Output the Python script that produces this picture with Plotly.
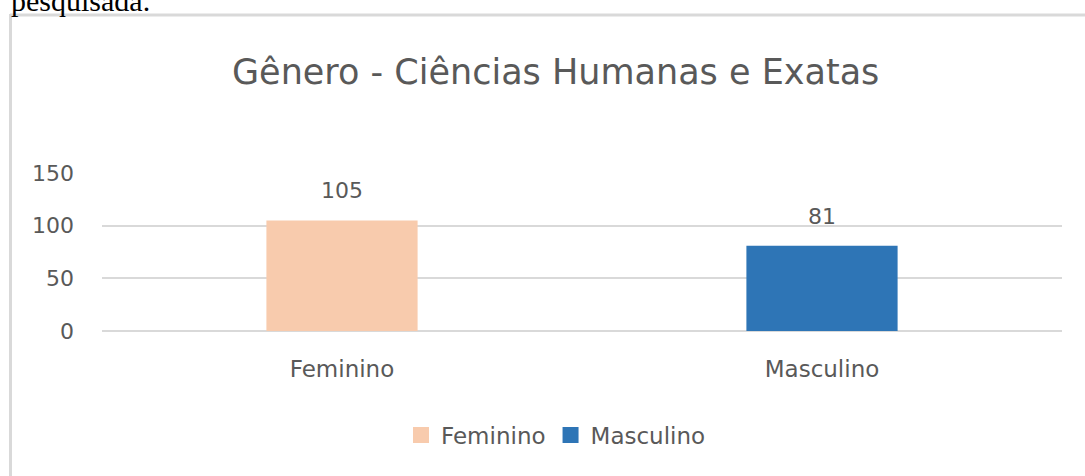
import plotly.graph_objects as go

categories = ["Feminino", "Masculino"]
values = [105, 81]
colors = ["#F8CBAD", "#2E75B6"]
y_ticks = [0, 50, 100, 150]
title_text = "Gênero - Ciências Humanas e Exatas"
page_text = "pesquisada."

W, H = 1085, 476
L, R, T, B = 102, 23, 173, 145
PW = W - L - R
PH = H - T - B

def px_x(px):
    return (px - L) / PW

def px_y(py):
    return (H - B - py) / PH

TXT = "#595959"
FONT = "DejaVu Sans"

fig = go.Figure()
for cat, val, col in zip(categories, values, colors):
    fig.add_trace(go.Bar(
        x=[cat], y=[val], name=cat, width=0.315,
        marker=dict(color=col, line=dict(width=0)),
        showlegend=False, hoverinfo="skip",
    ))
    fig.add_trace(go.Scatter(
        x=[None], y=[None], mode="markers", name=cat,
        marker=dict(symbol="square", size=16, color=col),
        showlegend=True,
    ))

label_annotations = [
    dict(text=str(val), x=cat, y=val, xref="x", yref="y",
         xanchor="center", yanchor="bottom", yshift=15, showarrow=False,
         font=dict(size=22, color=TXT, family=FONT))
    for cat, val in zip(categories, values)
]

fig.update_layout(
    width=W, height=H,
    margin=dict(l=L, r=R, t=T, b=B, pad=0),
    paper_bgcolor="white", plot_bgcolor="white",
    barmode="overlay",
    font=dict(family=FONT, color=TXT, size=22),
    showlegend=True,
    legend=dict(
        orientation="h", x=px_x(556), xanchor="center",
        y=px_y(435), yanchor="middle",
        font=dict(size=23, color=TXT, family=FONT),
        itemsizing="trace", bgcolor="rgba(0,0,0,0)",
    ),
    xaxis=dict(
        categoryorder="array", categoryarray=categories,
        showgrid=False, showline=False, zeroline=False,
        ticks="", ticklabelstandoff=22,
        tickfont=dict(size=23, color=TXT, family=FONT),
    ),
    yaxis=dict(
        range=[0, 150], tickvals=y_ticks,
        showgrid=True, gridcolor="#D9D9D9", gridwidth=2,
        zeroline=True, zerolinecolor="#D9D9D9", zerolinewidth=2,
        showline=False, ticks="", ticklabelstandoff=27,
        tickfont=dict(size=22, color=TXT, family=FONT),
    ),
    annotations=label_annotations + [
        dict(text=title_text, xref="paper", yref="paper",
             x=px_x(555), y=px_y(72), xanchor="center", yanchor="middle",
             showarrow=False, font=dict(size=35, color=TXT, family=FONT)),
        dict(text=page_text, xref="paper", yref="paper",
             x=px_x(9), y=px_y(19), xanchor="left", yanchor="bottom",
             showarrow=False,
             font=dict(size=30, color="black", family="Liberation Serif")),
    ],
    shapes=[
        dict(type="line", xref="paper", yref="paper",
             x0=px_x(10), x1=px_x(1090), y0=px_y(15), y1=px_y(15),
             line=dict(color="#D9D9D9", width=3)),
        dict(type="line", xref="paper", yref="paper",
             x0=px_x(10.5), x1=px_x(10.5), y0=px_y(14), y1=px_y(480),
             line=dict(color="#D9D9D9", width=3)),
    ],
)

fig.write_html(
    "out.html",
    config={"displayModeBar": False},
    post_script="document.body.style.margin='0px';document.body.style.overflow='hidden';",
)
